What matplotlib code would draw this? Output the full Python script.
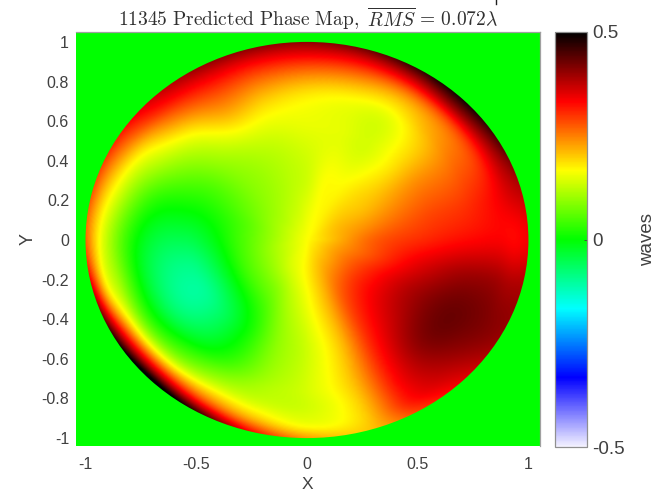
import numpy as np
import matplotlib
matplotlib.use("Agg")
import matplotlib.pyplot as plt
from matplotlib.colors import LinearSegmentedColormap
from matplotlib.patches import Circle
from matplotlib.lines import Line2D

plt.rcParams['font.family'] = ['Liberation Sans', 'DejaVu Sans']
plt.rcParams['axes.unicode_minus'] = False
plt.rcParams['mathtext.fontset'] = 'cm'

ANGLES_DEG = list(range(0, 360, 15))
RADII = [0.0, 0.15, 0.3, 0.55, 0.75, 0.87, 0.94, 1.0]
R000 = [.165] * 24
R015 = [.22, .215, .205, .19, .175, .165, .15, .135, .125, .115, .11, .105,
        .105, .11, .115, .125, .14, .155, .175, .20, .22, .23, .235, .23]
R030 = [.27, .24, .21, .19, .17, .165, .135, .12, .105, .09, .07, .05,
        .045, .045, .05, .06, .08, .12, .16, .21, .27, .30, .30, .28]
R055 = [.31, .28, .24, .18, .14, .15, .15, .14, .13, .10, .05, .00,
        -.05, -.09, -.10, -.06, .01, .09, .135, .20, .31, .37, .39, .36]
R075 = [.33, .30, .26, .21, .165, .175, .19, .21, .23, .17, .11, .04,
        -.01, -.03, -.03, .01, .06, .11, .14, .20, .33, .41, .43, .40]
R087 = [.335, .33, .30, .28, .26, .27, .28, .29, .30, .26, .18, .13,
        .09, .10, .12, .15, .17, .15, .14, .19, .33, .39, .42, .40]
R094 = [.33, .36, .38, .40, .37, .35, .35, .35, .35, .32, .25, .20,
        .17, .19, .29, .33, .29, .22, .165, .19, .32, .37, .41, .39]
R100 = [.34, .38, .45, .49, .47, .43, .41, .41, .40, .36, .31, .28,
        .27, .36, .47, .53, .46, .33, .23, .20, .29, .35, .40, .39]
RINGS = [R000, R015, R030, R055, R075, R087, R094, R100]

X_TICKS = [-1, -0.5, 0, 0.5, 1]
X_LABELS = ['-1', '-0.5', '0', '0.5', '1']
Y_TICKS = [-1, -0.8, -0.6, -0.4, -0.2, 0, 0.2, 0.4, 0.6, 0.8, 1]
Y_LABELS = ['-1', '-0.8', '-0.6', '-0.4', '-0.2', '0', '0.2', '0.4', '0.6', '0.8', '1']
CB_TICKS = [-0.5, 0, 0.5]
CB_LABELS = ['-0.5', '0', '0.5']
TITLE = r'$\mathrm{11345\ Predicted\ Phase\ Map,}\ \overline{RMS}\,=\,0.072\lambda$'

W, H = 655, 493
GRAY = '#404040'
cmap = LinearSegmentedColormap.from_list('phase', [
    (0.0, '#f4f2ff'), (1/6, '#0000ff'), (2/6, '#00ffff'), (3/6, '#00ff00'),
    (4/6, '#ffff00'), (5/6, '#ff0000'), (1.0, '#000000')], N=512)


def hermite(x, table, xq):
    """Smooth cubic resampling of table along its first axis."""
    x = np.asarray(x, float)
    slopes = np.gradient(table, x, axis=0)
    i = np.clip(np.searchsorted(x, xq) - 1, 0, len(x) - 2)
    h = x[i + 1] - x[i]
    t = (xq - x[i]) / h
    shape = (-1,) + (1,) * (table.ndim - 1)
    t, h = t.reshape(shape), h.reshape(shape)
    return ((2*t**3 - 3*t**2 + 1) * table[i] + (t**3 - 2*t**2 + t) * h * slopes[i]
            + (-2*t**3 + 3*t**2) * table[i + 1] + (t**3 - t**2) * h * slopes[i + 1])


table = np.array(RINGS)
# radial resampling, then periodic resampling around the circle
r_fine = np.linspace(0, 1, 400)
theta_fine = np.linspace(0, 360, 1441)
by_r = hermite(RADII, table, r_fine)
padded = np.hstack([by_r[:, -2:], by_r, by_r[:, :3]])
angles_padded = np.r_[-30, -15, ANGLES_DEG, 360, 375, 390]
polar = hermite(angles_padded, padded.T, theta_fine).T

gx, gy = np.meshgrid(np.linspace(-1.02, 1.02, 900), np.linspace(-1.02, 1.02, 900))
ri = np.clip(np.hypot(gx, gy) * 399, 0, 399).round().astype(int)
ti = (np.degrees(np.arctan2(gy, gx)) % 360 * 4).round().astype(int)
field = polar[ri, ti]

fig = plt.figure(figsize=(W / 100, H / 100), dpi=100, facecolor='white')
def box(l, t, r, b):
    return [l / W, 1 - b / H, (r - l) / W, (b - t) / H]

ax = fig.add_axes(box(76, 32, 539.5, 446), facecolor='#00ff00')
im = ax.imshow(field, origin='lower', extent=(-1.02, 1.02, -1.02, 1.02), cmap=cmap,
               vmin=-0.5, vmax=0.5, interpolation='bilinear', aspect='auto')
im.set_clip_path(Circle((0, 0), 1.0, transform=ax.transData))
ax.set_xlim(-1.043, 1.05)
ax.set_ylim(-1.04, 1.05)
ax.set_xticks(X_TICKS, X_LABELS)
ax.set_yticks(Y_TICKS, Y_LABELS)
ax.tick_params(length=0, labelsize=11.5, labelcolor=GRAY)
ax.tick_params(axis='x', pad=8)
ax.tick_params(axis='y', pad=5)
ax.spines['left'].set_visible(False)
ax.spines['bottom'].set_visible(False)
for s in ('top', 'right'):
    ax.spines[s].set_color('#a0a0a0'); ax.spines[s].set_linewidth(0.9)
ax.set_xlabel('X', fontsize=12.5, color=GRAY, labelpad=3.5)
ax.set_ylabel('Y', fontsize=13, color=GRAY, labelpad=3.5)
ax.set_title(TITLE, fontsize=14, color='#303030', pad=3)

cax = fig.add_axes(box(555, 32, 587, 447))
cb = fig.colorbar(im, cax=cax, ticks=CB_TICKS)
cb.ax.set_yticklabels(CB_LABELS)
cb.ax.tick_params(length=2, direction='in', width=0.6, color='#404040',
                  labelsize=13.5, labelcolor=GRAY, pad=4)
cb.outline.set_edgecolor('#909090'); cb.outline.set_linewidth(0.9)
cb.set_label('waves', fontsize=13.5, color=GRAY, labelpad=10)

# clipped glyph remnant at the top edge of the source image
fig.add_artist(Line2D([496 / W, 496 / W], [1, 1 - 4 / H], color='#202020', lw=1))
fig.savefig('out.png', dpi=100, facecolor='white')
